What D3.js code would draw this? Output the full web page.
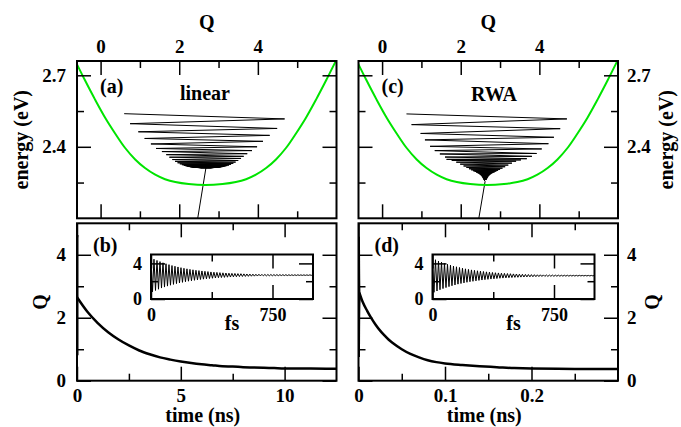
<!DOCTYPE html>
<html><head><meta charset="utf-8">
<script src="https://cdn.jsdelivr.net/npm/d3@7"></script>
<style>
body{margin:0;background:#fff}
</style>
</head><body>
<svg id="c" width="681" height="427"></svg>
<script>
// ---------------- data ----------------
const qTicksMajor = [0, 2, 4];
const qTicksMinor = [1, 3, 5];
const eTicksMajor = [2.4, 2.7];
const eTicksMinor = [2.25, 2.55];
const tLinMajor = [0, 5, 10];
const tLinMinor = [2.5, 7.5];
const tRwaMajor = [0, 0.1, 0.2];
const tRwaMinor = [0.05, 0.15, 0.25];
const qBotMajor = [0, 2, 4];
const qBotMinor = [1, 3];
const insetTMajor = [0, 750];
const insetTMinor = [375];
const insetQMajor = [0, 4];
const insetQMinor = [2];

// green potential curve (Q, energy)
const greenQ = [-0.65, -0.60, -0.40, -0.14, 0.12, 0.37, 0.62, 0.88, 1.13, 1.39, 1.64, 1.90, 2.24, 2.67, 3.10, 3.44, 3.70, 3.95, 4.21, 4.46, 4.72, 4.97, 5.22, 5.48, 5.74, 5.94, 6.05];
const greenE = [2.763, 2.746, 2.680, 2.598, 2.521, 2.456, 2.396, 2.347, 2.311, 2.283, 2.264, 2.252, 2.2435, 2.2395, 2.2435, 2.252, 2.264, 2.283, 2.311, 2.347, 2.396, 2.456, 2.521, 2.598, 2.680, 2.746, 2.782];

// trajectories in (Q, energy): turning points of the damped motion
const linTrajQ = [0.60, 4.68, 0.75, 4.49, 0.96, 4.30, 1.12, 4.13, 1.28, 3.98, 1.41, 3.85, 1.56, 3.73, 1.67, 3.64,
  1.750, 3.572, 1.825, 3.500, 1.893, 3.434, 1.957, 3.374, 2.015, 3.318, 2.068, 3.267, 2.117, 3.220, 2.163, 3.176,
  2.204, 3.136, 2.243, 3.099, 2.278, 3.066, 2.310, 3.035, 2.340, 3.006, 2.367, 2.980, 2.392, 2.956, 2.415, 2.934,
  2.437, 2.913, 2.456, 2.895, 2.474, 2.877, 2.491, 2.861, 2.506, 2.847, 2.520, 2.833, 2.533, 2.821, 2.545, 2.810,
  2.556, 2.799, 2.68, 2.47];
const linTrajE = [2.539, 2.517, 2.497, 2.477, 2.463, 2.448, 2.435, 2.423, 2.412, 2.400, 2.393, 2.384, 2.380, 2.371, 2.367, 2.360,
  2.3563, 2.3512, 2.3465, 2.3425, 2.3390, 2.3358, 2.3330, 2.3307, 2.3285, 2.3266, 2.3249, 2.3234, 2.3221, 2.3210, 2.3199, 2.3191,
  2.3183, 2.3176, 2.3170, 2.3164, 2.3159, 2.3155, 2.3152, 2.3148, 2.3145, 2.3143, 2.3141, 2.3139, 2.3137, 2.3135, 2.3134, 2.3133,
  2.3132, 2.3131, 2.3130, 2.3129, 2.3129, 2.3128, 2.3128, 2.3127, 2.3127, 2.3126, 2.3126, 2.3126, 2.3125, 2.3125, 2.3125, 2.3125,
  2.3124, 2.3124, 2.3124, 2.10];
const rwaTrajQ = [0.62, 4.70, 0.75, 4.53, 0.98, 4.37, 1.09, 4.23, 1.22, 4.06, 1.34, 3.93, 1.47, 3.81, 1.60, 3.68,
  1.640, 3.531, 1.772, 3.408, 1.887, 3.302, 1.986, 3.210, 2.072, 3.130, 2.146, 3.061, 2.210, 3.001, 2.265, 2.950,
  2.313, 2.905, 2.355, 2.867, 2.391, 2.833, 2.422, 2.804, 2.448, 2.780, 2.472, 2.758, 2.492, 2.739, 2.509, 2.723,
  2.524, 2.709, 2.537, 2.697, 2.548, 2.687, 2.558, 2.678, 2.566, 2.670, 2.574, 2.663, 2.580, 2.657, 2.585, 2.652,
  2.590, 2.62, 2.46];
const rwaTrajE = [2.538, 2.517, 2.493, 2.476, 2.456, 2.440, 2.429, 2.413, 2.402, 2.391, 2.384, 2.372, 2.370, 2.360, 2.357, 2.350,
  2.3473, 2.3450, 2.3429, 2.3396, 2.3355, 2.3314, 2.3272, 2.3233, 2.3196, 2.3163, 2.3131, 2.3103, 2.3078, 2.3055, 2.3034, 2.3014,
  2.2996, 2.2979, 2.2963, 2.2949, 2.2935, 2.2923, 2.2912, 2.2901, 2.2892, 2.2877, 2.2862, 2.2849, 2.2836, 2.2825, 2.2814, 2.2804,
  2.2790, 2.2773, 2.2758, 2.2743, 2.2730, 2.2718, 2.2705, 2.2695, 2.2684, 2.2673, 2.2663, 2.2655, 2.2647, 2.2639, 2.2633, 2.2625,
  2.2620, 2.255, 2.10];

// inset: Q(t) turning points, sampled every insetStepFs femtoseconds
const insetStepFs = 9.25;
const insetLinQ = [4.63,0.81,4.47,0.96,4.33,1.10,4.20,1.23,4.07,1.34,3.96,1.45,3.86,1.55,3.76,1.64,3.68,1.73,3.60,1.80,3.52,1.87,3.45,1.94,3.39,2.00,3.33,2.05,3.28,2.10,3.23,2.15,3.19,2.19,3.15,2.23,3.11,2.27,3.08,2.30,3.04,2.33,3.01,2.36,2.99,2.39,2.96,2.41,2.94,2.43,2.92,2.45,2.90,2.47,2.88,2.49,2.87,2.50,2.85,2.52,2.84,2.53,2.82,2.54,2.81,2.55,2.80,2.56,2.79,2.57,2.78,2.58,2.78,2.59,2.77,2.60,2.76,2.60,2.75,2.61,2.75,2.61,2.74,2.62,2.74,2.62,2.73,2.63,2.73,2.63,2.73,2.63,2.72,2.64,2.72,2.64,2.72,2.64,2.72,2.65,2.71,2.65,2.71,2.65,2.71,2.65,2.71,2.66,2.70];
const insetRwaQ = [4.57,0.75,4.41,0.90,4.27,1.04,4.14,1.17,4.01,1.28,3.90,1.39,3.80,1.49,3.70,1.58,3.62,1.67,3.54,1.74,3.46,1.81,3.39,1.88,3.33,1.94,3.27,1.99,3.22,2.04,3.17,2.09,3.13,2.13,3.09,2.17,3.05,2.21,3.02,2.24,2.98,2.27,2.95,2.30,2.93,2.33,2.90,2.35,2.88,2.37,2.86,2.39,2.84,2.41,2.82,2.43,2.81,2.44,2.79,2.46,2.78,2.47,2.76,2.48,2.75,2.49,2.74,2.50,2.73,2.51,2.72,2.52,2.72,2.53,2.71,2.54,2.70,2.54,2.69,2.55,2.69,2.55,2.68,2.56,2.68,2.56,2.67,2.57,2.67,2.57,2.67,2.57,2.66,2.58,2.66,2.58,2.66,2.58,2.66,2.59,2.65,2.59,2.65,2.59,2.65,2.59,2.65,2.60,2.64];

// slow relaxation Q(t), t in ns
const decayLinT = [0.001, 0.5, 1, 1.5, 2, 2.5, 3, 3.5, 4, 4.5, 5, 5.5, 6, 6.5, 7, 7.5, 8, 8.5, 9, 9.5, 10, 11, 12, 12.5];
const decayLinQ = [2.65, 2.19, 1.83, 1.54, 1.31, 1.12, 0.96, 0.84, 0.74, 0.67, 0.61, 0.56, 0.52, 0.49, 0.46, 0.45, 0.43, 0.42, 0.41, 0.40, 0.39, 0.385, 0.38, 0.378];
const decayRwaT = [0.001, 0.005, 0.01, 0.015, 0.02, 0.025, 0.03, 0.035, 0.04, 0.05, 0.06, 0.07, 0.08, 0.09, 0.10, 0.12, 0.14, 0.16, 0.18, 0.20, 0.25, 0.30];
const decayRwaQ = [2.80, 2.49, 2.22, 1.98, 1.77, 1.59, 1.44, 1.30, 1.19, 1.00, 0.85, 0.74, 0.65, 0.59, 0.55, 0.50, 0.46, 0.43, 0.40, 0.385, 0.375, 0.37];

// ---------------- drawing ----------------
const FONT = "'Liberation Serif', 'Times New Roman', Times, serif";
const svg = d3.select('#c');
const defs = svg.append('defs');
const GREEN = '#00e400';
const TICKFS = 19, TITLEFS = 20, INSETFS = 18;

function styleText(sel, fs) {
  sel.attr('font-family', FONT).style('font-family', FONT)
     .attr('font-weight', 'bold').style('font-weight', 'bold')
     .style('font-size', fs + 'px').attr('fill', '#000');
}
function clip(id, x0, y0, x1, y1) {
  defs.append('clipPath').attr('id', id).append('rect')
    .attr('x', x0).attr('y', y0).attr('width', x1 - x0).attr('height', y1 - y0);
}
function axis(orient, scale, values, len, fmt, pad, pos, fs) {
  const gen = {top: d3.axisTop, bottom: d3.axisBottom, left: d3.axisLeft, right: d3.axisRight}[orient](scale)
    .tickValues(values).tickSizeInner(-len).tickSizeOuter(0).tickPadding(pad)
    .tickFormat(fmt || (() => ''));
  const tr = (orient === 'top' || orient === 'bottom') ? `translate(0,${pos})` : `translate(${pos},0)`;
  const a = svg.append('g').attr('transform', tr).call(gen);
  a.select('.domain').remove();
  a.attr('font-family', FONT).attr('font-size', null);
  a.selectAll('line').attr('stroke', '#000').attr('stroke-width', 1.5);
  styleText(a.selectAll('text'), fs || TICKFS);
  return a;
}
function frame(x0, y0, x1, y1) {
  svg.append('rect').attr('x', x0).attr('y', y0).attr('width', x1 - x0).attr('height', y1 - y0)
    .attr('fill', 'none').attr('stroke', '#000').attr('stroke-width', 2);
}
function label(txt, x, y, opts = {}) {
  const t = svg.append('text').attr('x', x).attr('y', y).text(txt)
    .attr('text-anchor', opts.anchor || 'start');
  styleText(t, opts.fs || TITLEFS);
  if (opts.rot) t.attr('transform', `rotate(${opts.rot},${x},${y})`);
  return t;
}

const cols = [{x0: 77, x1: 336.5}, {x0: 358.5, x1: 618}];
const TOP = {y0: 61, y1: 218.3};
const BOT = {y0: 223.3, y1: 380.7};
const fmtD = d3.format('d');
const fmtE = d3.format('.1f');
const fmtT2 = v => v === 0 ? '0' : d3.format('.1f')(v);

const panels = [
  {trajQ: linTrajQ, trajE: linTrajE, tag: '(a)', name: 'linear', nameX: 205, nameY: 99.5,
   bTag: '(b)', tDom: [0, 12.5], tMaj: tLinMajor, tMin: tLinMinor, tFmt: fmtD,
   insetQ: insetLinQ, decT: decayLinT, decQ: decayLinQ},
  {trajQ: rwaTrajQ, trajE: rwaTrajE, tag: '(c)', name: 'RWA', nameX: 494, nameY: 101,
   bTag: '(d)', tDom: [0, 0.3], tMaj: tRwaMajor, tMin: tRwaMinor, tFmt: fmtT2,
   insetQ: insetRwaQ, decT: decayRwaT, decQ: decayRwaQ}
];

panels.forEach((p, i) => {
  const {x0, x1} = cols[i];
  const cx = (x0 + x1) / 2;

  // ---------- top panel: energy vs Q ----------
  const xQ = d3.scaleLinear().domain([-0.6, 6.0]).range([x0, x1]);
  const yE = d3.scaleLinear().domain([2.1, 2.76]).range([TOP.y1, TOP.y0]);
  clip('ct' + i, x0, TOP.y0, x1, TOP.y1);
  const gT = svg.append('g').attr('clip-path', `url(#ct${i})`);
  gT.append('path').datum(p.trajQ.map((q, k) => [q, p.trajE[k]]))
    .attr('d', d3.line().x(d => xQ(d[0])).y(d => yE(d[1])))
    .attr('fill', 'none').attr('stroke', '#000').attr('stroke-width', 1);
  gT.append('path').datum(greenQ.map((q, k) => [q, greenE[k]]))
    .attr('d', d3.line().x(d => xQ(d[0])).y(d => yE(d[1])).curve(d3.curveCatmullRom.alpha(0.5)))
    .attr('fill', 'none').attr('stroke', GREEN).attr('stroke-width', 2);

  axis('top', xQ, qTicksMajor, 14, fmtD, 7.7, TOP.y0);
  axis('top', xQ, qTicksMinor, 7, null, 0, TOP.y0);
  axis('bottom', xQ, qTicksMajor, 14, null, 0, TOP.y1);
  axis('bottom', xQ, qTicksMinor, 7, null, 0, TOP.y1);
  axis('left', yE, eTicksMajor, 14, i === 0 ? fmtE : null, 11, x0);
  axis('left', yE, eTicksMinor, 7, null, 0, x0);
  axis('right', yE, eTicksMajor, 14, i === 1 ? fmtE : null, 9, x1);
  axis('right', yE, eTicksMinor, 7, null, 0, x1);
  frame(x0, TOP.y0, x1, TOP.y1);

  label('Q', cx, 28.5, {anchor: 'middle'});
  label(p.tag, x0 + 23, 93);
  label(p.name, p.nameX, p.nameY, {anchor: 'middle'});

  // ---------- bottom panel: Q vs time ----------
  const xT = d3.scaleLinear().domain(p.tDom).range([x0, x1]);
  const yQ = d3.scaleLinear().domain([0, 5]).range([BOT.y1, BOT.y0]);
  clip('cb' + i, x0, BOT.y0, x1, BOT.y1);
  const gB = svg.append('g').attr('clip-path', `url(#cb${i})`);
  const fast = p.insetQ.map((q, k) => [k * insetStepFs * 1e-6, q]);
  gB.append('path').datum(fast)
    .attr('d', d3.line().x(d => xT(d[0])).y(d => yQ(d[1])))
    .attr('fill', 'none').attr('stroke', '#000').attr('stroke-width', 3);
  gB.append('path').datum(p.decT.map((t, k) => [t, p.decQ[k]]))
    .attr('d', d3.line().x(d => xT(d[0])).y(d => yQ(d[1])).curve(d3.curveMonotoneX))
    .attr('fill', 'none').attr('stroke', '#000').attr('stroke-width', 2.5);

  axis('top', xT, p.tMaj, 14, null, 0, BOT.y0);
  axis('top', xT, p.tMin, 7, null, 0, BOT.y0);
  axis('bottom', xT, p.tMaj, 14, p.tFmt, 7.5, BOT.y1);
  axis('bottom', xT, p.tMin, 7, null, 0, BOT.y1);
  axis('left', yQ, qBotMajor, 14, i === 0 ? fmtD : null, 11, x0);
  axis('left', yQ, qBotMinor, 7, null, 0, x0);
  axis('right', yQ, qBotMajor, 14, i === 1 ? fmtD : null, 9, x1);
  axis('right', yQ, qBotMinor, 7, null, 0, x1);
  frame(x0, BOT.y0, x1, BOT.y1);

  label(p.bTag, x0 + 16, 251.5);
  label('time (ns)', cx - 4, 422, {anchor: 'middle'});

  // ---------- inset ----------
  const ix0 = x0 + 74, ix1 = ix0 + 162, iy0 = 254.5, iy1 = 299;
  svg.append('rect').attr('x', ix0).attr('y', iy0).attr('width', ix1 - ix0).attr('height', iy1 - iy0).attr('fill', '#fff');
  const xi = d3.scaleLinear().domain([0, 1000]).range([ix0, ix1]);
  const yi = d3.scaleLinear().domain([0, 5]).range([iy1, iy0]);
  clip('ci' + i, ix0, iy0, ix1, iy1);
  svg.append('g').attr('clip-path', `url(#ci${i})`).append('path')
    .datum(p.insetQ.map((q, k) => [k * insetStepFs, q]))
    .attr('d', d3.line().x(d => xi(d[0])).y(d => yi(d[1])))
    .attr('fill', 'none').attr('stroke', '#000').attr('stroke-width', 1);
  axis('top', xi, insetTMajor, 14, null, 0, iy0);
  axis('top', xi, insetTMinor, 7, null, 0, iy0);
  axis('bottom', xi, insetTMajor, 14, fmtD, 9, iy1, INSETFS);
  axis('bottom', xi, insetTMinor, 7, null, 0, iy1);
  axis('left', yi, insetQMajor, 14, fmtD, 9, ix0, INSETFS);
  axis('left', yi, insetQMinor, 7, null, 0, ix0);
  axis('right', yi, insetQMajor, 14, null, 0, ix1);
  axis('right', yi, insetQMinor, 7, null, 0, ix1);
  frame(ix0, iy0, ix1, iy1);
  label('fs', (ix0 + ix1) / 2, 330, {anchor: 'middle'});
});

// side titles
label('energy (eV)', 28, 139.7, {anchor: 'middle', rot: -90});
label('energy (eV)', 673, 139.7, {anchor: 'middle', rot: -90});
label('Q', 47, 302, {anchor: 'middle', rot: -90});
label('Q', 659, 302, {anchor: 'middle', rot: -90});
</script>
</body></html>
